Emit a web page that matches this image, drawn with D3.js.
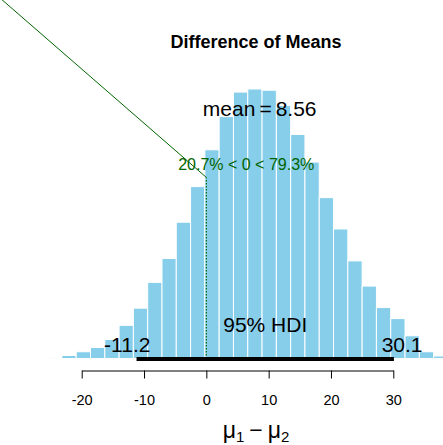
<!DOCTYPE html>
<html>
<head>
<meta charset="utf-8">
<script src="https://cdn.jsdelivr.net/npm/d3@7"></script>
<style>
  body { margin: 0; background: #fff; }
  svg text { font-family: "Liberation Sans", Arial, sans-serif; }
</style>
</head>
<body>
<svg id="chart" width="443" height="445"></svg>
<script>
// posterior histogram of mu1 - mu2 (densities)
const binStart = -25.47;
const binWidth = 2.294;
const density = [
  0.0001, 0.0005, 0.0011, 0.0018, 0.0031, 0.0054, 0.0082, 0.0124,
  0.0163, 0.0222, 0.0280, 0.0340, 0.0394, 0.0434, 0.0439, 0.0437,
  0.0412, 0.0365, 0.0320, 0.0262, 0.0211, 0.0159, 0.0118, 0.0083,
  0.0065, 0.0037, 0.0011, 0.0004
];
const xTicks = [-20, -10, 0, 10, 20, 30];
const meanVal = 8.56;
const hdi = [-11.2, 30.1];
const compVal = 0;
const pctBelow = 20.7;
const pctAbove = 79.3;

const svg = d3.select("#chart");

const x = d3.scaleLinear().domain([-20, 30]).range([81.7, 393.3]);
const y = d3.scaleLinear().domain([0, d3.max(density)]).range([358.5, 89]);

const bins = density.map((d, i) => ({ x0: binStart + i * binWidth, x1: binStart + (i + 1) * binWidth, d }));

svg.append("g")
  .selectAll("rect")
  .data(bins)
  .enter()
  .append("rect")
  .attr("x", b => x(b.x0))
  .attr("y", b => y(b.d))
  .attr("width", b => x(b.x1) - x(b.x0))
  .attr("height", b => y(0) - y(b.d))
  .attr("fill", "#87ceeb")
  .attr("stroke", "#fff")
  .attr("stroke-width", 1);

// comparison value
const cvHt = 0.7 * d3.max(density);
svg.append("line")
  .attr("x1", x(compVal)).attr("x2", x(compVal))
  .attr("y1", y(0)).attr("y2", y(0.96 * cvHt))
  .attr("stroke", "#006400")
  .attr("stroke-width", 1.2)
  .attr("stroke-dasharray", "1.5,1.5");

svg.append("line")
  .attr("x1", x(-33.2)).attr("y1", y(0.0588))
  .attr("x2", x(compVal)).attr("y2", y(0.96 * cvHt))
  .attr("stroke", "#006400")
  .attr("stroke-width", 1);

const cvText = svg.append("text")
  .attr("y", y(cvHt) + 0.5)
  .attr("fill", "#006400")
  .attr("font-size", 16)
  .text(`${pctBelow}% < ${compVal} < ${pctAbove}%`);
const cvW = cvText.node().getComputedTextLength();
cvText.attr("x", x(compVal) - cvW * pctBelow / 100);

// HDI
svg.append("line")
  .attr("x1", x(hdi[0])).attr("x2", x(hdi[1]))
  .attr("y1", y(0) + 0.5).attr("y2", y(0) + 0.5)
  .attr("stroke", "#000")
  .attr("stroke-width", 4);

svg.append("text")
  .attr("x", x((hdi[0] + hdi[1]) / 2))
  .attr("y", y(0) - 27)
  .attr("text-anchor", "middle")
  .attr("font-size", 21)
  .text("95% HDI");

const lo = svg.append("text")
  .attr("y", y(0) - 6.3)
  .attr("font-size", 21)
  .text(hdi[0]);
lo.attr("x", x(hdi[0]) - 0.7 * lo.node().getComputedTextLength());

const hi = svg.append("text")
  .attr("y", y(0) - 6.3)
  .attr("font-size", 21)
  .text(hdi[1]);
hi.attr("x", x(hdi[1]) - 0.3 * hi.node().getComputedTextLength());

// mean
const meanText = svg.append("text")
  .attr("x", x(meanVal))
  .attr("y", 116)
  .attr("text-anchor", "middle")
  .attr("font-size", 21);
meanText.append("tspan").text("mean");
meanText.append("tspan").attr("dx", 4).text("=");
meanText.append("tspan").attr("dx", 4).text(meanVal);

// axis
const axis = svg.append("g")
  .attr("transform", "translate(0,370.5)")
  .call(d3.axisBottom(x).tickValues(xTicks).tickFormat(d => String(d))
    .tickSize(8).tickSizeOuter(0).tickPadding(16));
axis.selectAll("path, line").attr("stroke", "#000");
axis.selectAll("text")
  .attr("font-size", 14.5)
  .attr("font-family", "Liberation Sans, Arial, sans-serif")
  .attr("fill", "#000");

// title
svg.append("text")
  .attr("x", 256)
  .attr("y", 48.3)
  .attr("text-anchor", "middle")
  .attr("font-size", 18)
  .attr("font-weight", "bold")
  .text("Difference of Means");

// x label
const xl = svg.append("text")
  .attr("x", 256)
  .attr("y", 438)
  .attr("text-anchor", "middle")
  .attr("font-size", 23);
xl.append("tspan").text("\u03bc");
xl.append("tspan").attr("font-size", 15).attr("dy", 4).text("1");
xl.append("tspan").attr("dy", -4).attr("dx", 5).text("\u2212");
xl.append("tspan").attr("dx", 5).text("\u03bc");
xl.append("tspan").attr("font-size", 15).attr("dy", 4).text("2");
</script>
</body>
</html>
